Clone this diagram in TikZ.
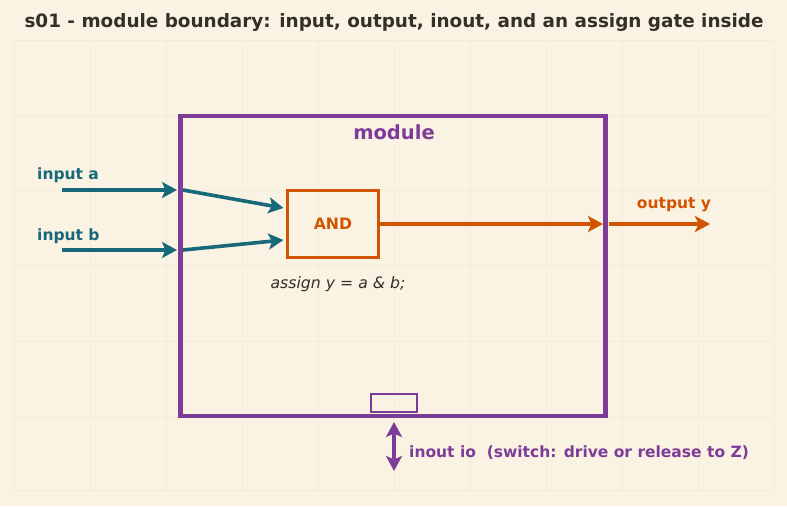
\documentclass[tikz,border=0pt]{standalone}
\usepackage{fontspec}
\setmainfont{DejaVu Sans}
\usetikzlibrary{arrows.meta}
\definecolor{bg}{HTML}{FAF3E3}
\definecolor{gridc}{HTML}{F4ECDA}
\definecolor{purp}{HTML}{7D3C98}
\definecolor{teal}{HTML}{17697A}
\definecolor{orng}{HTML}{D35400}
\definecolor{dark}{HTML}{333027}
\tikzset{
  x=1pt, y=-1pt,
  lbl/.style={font=\fontsize{15.5}{18}\selectfont\bfseries, inner sep=0pt},
  tarrow/.style={draw=teal, line width=3.6pt, -{Stealth[length=15pt,width=16pt,inset=3.5pt]}},
  oarrow/.style={draw=orng, line width=3.6pt, -{Stealth[length=15pt,width=16pt,inset=3.5pt]}},
  parrow/.style={draw=purp, line width=3.6pt, {Stealth[length=15pt,width=16pt,inset=3.5pt]}-{Stealth[length=15pt,width=16pt,inset=3.5pt]}},
  boxshape/.style={inner sep=0pt, outer sep=0pt, anchor=north west},
}
\begin{document}
\begin{tikzpicture}
\fill[bg] (0,0) rectangle (787,506);
\useasboundingbox (0,0) rectangle (787,506);
% faint grid
\foreach \gx in {14,90,166,242,318,394,470,546,622,698,774}
  \draw[gridc, line width=0.8pt] (\gx,40) -- (\gx,490);
\foreach \gy in {40,115,190,265,341,417,490}
  \draw[gridc, line width=0.8pt] (14,\gy) -- (774,\gy);
% title
\node[font=\fontsize{18.4}{22}\selectfont\bfseries, text=dark, inner sep=0pt] (title) at (394,22) {s01 - module boundary: input, output, inout, and an assign gate inside};
% module box
\node[boxshape, draw=purp, line width=4.5pt, minimum width=425pt, minimum height=300pt] (mod) at (180.5,116) {};
\node[lbl, text=purp, font=\fontsize{19.5}{22}\selectfont\bfseries] (modlbl) at (394,132) {module};
% AND gate
\node[boxshape, draw=orng, line width=3.2pt, minimum width=91pt, minimum height=67pt] (and) at (287.5,190.5) {};
\node[lbl, text=orng, font=\fontsize{15.7}{18}\selectfont\bfseries] (andlbl) at (and.center) {AND};
\node[inner sep=0pt, text=dark, font=\fontsize{15.7}{18}\selectfont\itshape] (assign) at (338,284) {assign y = a \& b;};
% inputs
\node[lbl, text=teal, anchor=west] (la) at (37,175) {input a};
\node[lbl, text=teal, anchor=west] (lb) at (37,236) {input b};
\coordinate (a0) at (62,190);
\coordinate (a1) at (177,190);
\coordinate (a2) at (183,190);
\coordinate (b0) at (62,250);
\coordinate (b1) at (177,250);
\coordinate (b2) at (183,250);
\draw[tarrow] (a0) -- (a1);
\draw[tarrow] (b0) -- (b1);
\draw[tarrow] (a2) -- ([yshift=16pt,xshift=-4pt]and.west);
\draw[tarrow] (b2) -- ([yshift=-16pt,xshift=-4pt]and.west);
% output
\coordinate (y1) at (603,224);
\coordinate (y2) at (609,224);
\coordinate (y3) at (710,224);
\draw[oarrow] (and.east) -- (y1);
\draw[oarrow] (y2) -- (y3);
\node[lbl, text=orng] (ly) at (674,205) {output y};
% inout
\node[boxshape, draw=purp, line width=2pt, minimum width=46pt, minimum height=18pt] (pad) at (371,394) {};
\coordinate (io1) at (394,422);
\coordinate (io2) at (394,471);
\draw[parrow] (io1) -- (io2);
\node[lbl, text=purp, anchor=west] (lio) at (409,453) {inout io\ \ (switch: drive or release to Z)};
\end{tikzpicture}
\end{document}
